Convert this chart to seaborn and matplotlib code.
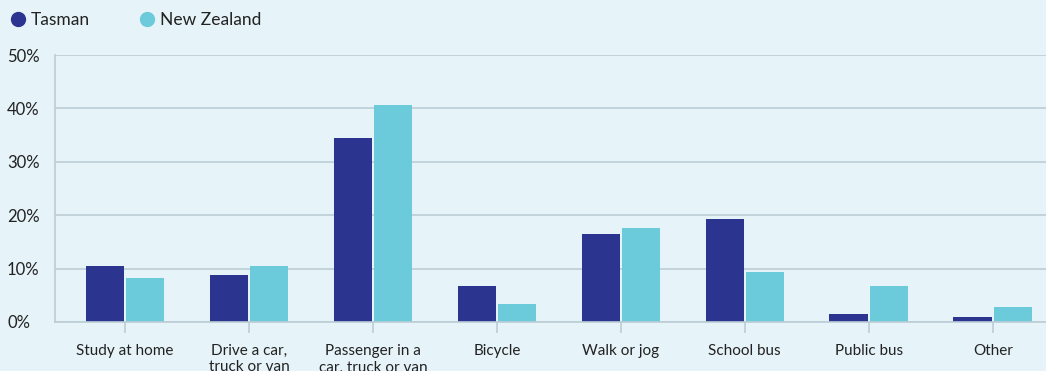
import matplotlib
matplotlib.use("Agg")
import matplotlib.pyplot as plt
from matplotlib.lines import Line2D
import seaborn as sns
import pandas as pd

categories = [
    "Study at home",
    "Drive a car,\ntruck or van",
    "Passenger in a\ncar, truck or van",
    "Bicycle",
    "Walk or jog",
    "School bus",
    "Public bus",
    "Other",
]
tasman = [10.4, 8.8, 34.5, 6.7, 16.5, 19.3, 1.5, 0.9]
new_zealand = [8.2, 10.4, 40.6, 3.4, 17.6, 9.4, 6.7, 2.8]
series_names = ["Tasman", "New Zealand"]
y_ticks = [0, 10, 20, 30, 40, 50]

df = pd.DataFrame({
    "category": categories * 2,
    "value": tasman + new_zealand,
    "area": [series_names[0]] * len(categories) + [series_names[1]] * len(categories),
})

bg = "#e6f3f8"
grid_c = "#bccdd6"
colors = ["#2b3590", "#6bcbdb"]

sns.set_theme(style="white")
plt.rcParams["font.family"] = ["Lato", "DejaVu Sans"]

fig = plt.figure(figsize=(10.46, 3.71), dpi=100, facecolor=bg)
ax = fig.add_axes([55 / 1046, 49 / 371, 1 - 55 / 1046, 267 / 371])
ax.set_facecolor(bg)

sns.barplot(data=df, x="category", y="value", hue="area", palette=colors,
            width=0.65, gap=0.05, ax=ax, legend=False, saturation=1,
            linewidth=0)

ax.set_ylim(0, 50)
ax.set_xlim(-0.565, 7.43)
ax.set_yticks(y_ticks)
ax.set_yticklabels([f"{v}%" for v in y_ticks])
ax.set_xlabel("")
ax.set_ylabel("")

ax.yaxis.grid(True, color=grid_c, linewidth=1.2)
ax.set_axisbelow(True)
for side in ["top", "right"]:
    ax.spines[side].set_visible(False)
for side in ["left", "bottom"]:
    ax.spines[side].set_color(grid_c)
    ax.spines[side].set_linewidth(1.2)

ax.tick_params(axis="y", length=0, pad=34.5, labelsize=12, labelcolor="#222222")
for lab in ax.get_yticklabels():
    lab.set_horizontalalignment("left")
ax.tick_params(axis="x", length=8, width=1.2, color=grid_c, pad=8,
               labelsize=11, labelcolor="#222222", bottom=True)
for lab in ax.get_xticklabels():
    lab.set_verticalalignment("top")
    lab.set_linespacing(1.2)

handles = [Line2D([0], [0], marker="o", linestyle="", markersize=10,
                  markerfacecolor=c, markeredgecolor=c) for c in colors]
fig.legend(handles, series_names, loc="upper left", bbox_to_anchor=(-0.006, 1.01),
           ncol=2, frameon=False, fontsize=12.5, handletextpad=0.25,
           columnspacing=2.8, handlelength=1.0, labelcolor="#222222")

fig.savefig("out.png", dpi=100, facecolor=bg)
